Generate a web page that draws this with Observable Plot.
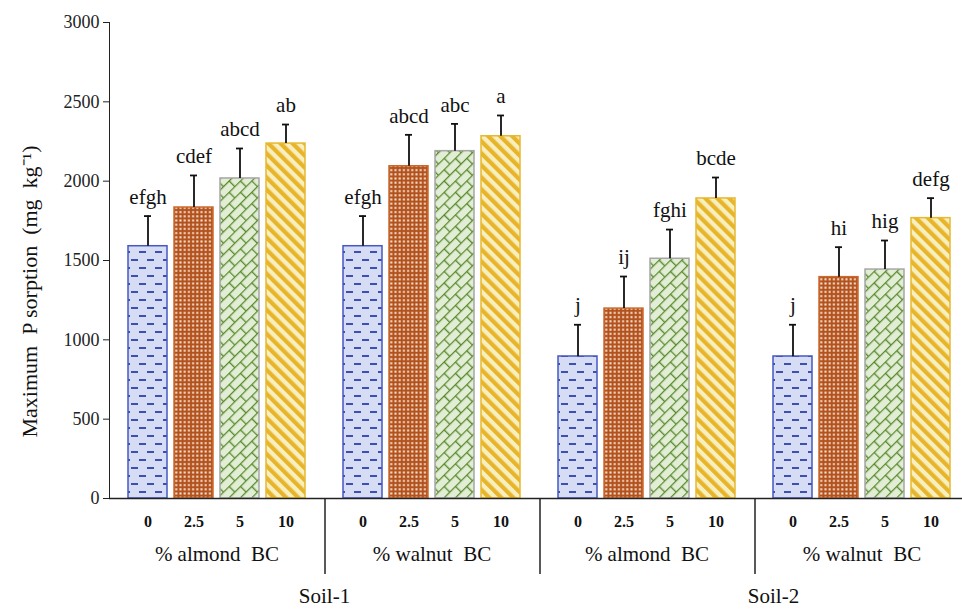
<!DOCTYPE html>
<html>
<head>
<meta charset="utf-8">
<script src="https://cdn.jsdelivr.net/npm/d3@7"></script>
<script src="https://cdn.jsdelivr.net/npm/@observablehq/plot@0.6"></script>
<style>
  html, body { margin: 0; padding: 0; background: #fff; }
  #chart svg { display: block; }
  #chart svg, #chart svg text { font-family: "Liberation Serif", "Times New Roman", serif !important; }
</style>
</head>
<body>
<div id="chart"></div>
<script>
// ---- data ----
const levels = ["0", "2.5", "5", "10"];
const groups = ["Soil-1 almond", "Soil-1 walnut", "Soil-2 almond", "Soil-2 walnut"];
const groupLabels = ["% almond  BC", "% walnut  BC", "% almond  BC", "% walnut  BC"];
const soils = ["Soil-1", "Soil-2"];
const yTicks = [0, 500, 1000, 1500, 2000, 2500, 3000];
const yLabel = "Maximum  P sorption  (mg  kg\u207B\u00B9)";

const s1AlmondMean = [1590, 1834, 2017, 2237];
const s1AlmondErr = [190, 202, 189, 120];
const s1AlmondLetters = ["efgh", "cdef", "abcd", "ab"];

const s1WalnutMean = [1590, 2094, 2189, 2283];
const s1WalnutErr = [190, 198, 172, 131];
const s1WalnutLetters = ["efgh", "abcd", "abc", "a"];

const s2AlmondMean = [895, 1197, 1511, 1891];
const s2AlmondErr = [200, 202, 184, 132];
const s2AlmondLetters = ["j", "ij", "fghi", "bcde"];

const s2WalnutMean = [895, 1395, 1443, 1767];
const s2WalnutErr = [200, 189, 183, 126];
const s2WalnutLetters = ["j", "hi", "hig", "defg"];

const fillPatterns = ["url(#p0)", "url(#p1)", "url(#p2)", "url(#p3)"];
const strokeColors = ["#4658c2", "#cc6a2c", "#a6a6a6", "#e8b830"];

// ---- table built from the arrays ----
const series = [
  [s1AlmondMean, s1AlmondErr, s1AlmondLetters],
  [s1WalnutMean, s1WalnutErr, s1WalnutLetters],
  [s2AlmondMean, s2AlmondErr, s2AlmondLetters],
  [s2WalnutMean, s2WalnutErr, s2WalnutLetters]
];
const rows = [];
series.forEach(([m, e, l], gi) => {
  levels.forEach((lev, li) => {
    rows.push({group: groups[gi], level: lev, value: m[li], err: e[li], letter: l[li]});
  });
});

const font = "Liberation Serif, Times New Roman, serif";

const chart = Plot.plot({
  width: 962,
  height: 610,
  marginLeft: 107,
  marginRight: -8,
  marginTop: 22,
  marginBottom: 112,
  style: {fontFamily: font, fontSize: "18px", color: "#222", background: "white"},
  fx: {domain: groups, padding: 0, axis: null},
  x: {domain: levels, paddingInner: 0.16, paddingOuter: 0.4, axis: null},
  y: {domain: [0, 3000], ticks: yTicks, tickFormat: d => `${d}`, tickSize: 6, tickPadding: 4, line: true, label: null},
  marks: [
    ...levels.map((lev, i) => Plot.barY(rows.filter(d => d.level === lev), {
      fx: "group", x: "level", y: "value",
      fill: fillPatterns[i], stroke: strokeColors[i], strokeWidth: 1.5
    })),
    Plot.ruleX(rows, {fx: "group", x: "level", y1: "value", y2: d => d.value + d.err, stroke: "#111", strokeWidth: 1.8}),
    Plot.tickY(rows, {fx: "group", x: "level", y: d => d.value + d.err, insetLeft: 16, insetRight: 16, stroke: "#111", strokeWidth: 1.8}),
    Plot.text(rows, {fx: "group", x: "level", y: d => d.value + d.err, text: "letter", dy: -19, fontSize: 21, fill: "#111"}),
    Plot.ruleY([0], {stroke: "#222", strokeWidth: 1.5}),
    // x tick labels
    Plot.text(rows, {fx: "group", x: "level", text: "level", frameAnchor: "bottom", dy: 28, fontSize: 16, fontWeight: "bold", fill: "#111"}),
    // group labels
    Plot.text(groups, {fx: d => d, text: (d, i) => groupLabels[i], frameAnchor: "bottom", dy: 62, fontSize: 21, fill: "#111"}),
    // group separators
    Plot.ruleX(groups.slice(1), {fx: d => d, x: () => levels[0], dx: -38, y1: () => 0, insetBottom: -76, stroke: "#222", strokeWidth: 1.5}),
    // soil labels
    Plot.text([soils[0]], {fx: () => groups[1], frameAnchor: "bottom-left", textAnchor: "middle", dy: 104, fontSize: 21, fill: "#111"}),
    Plot.text([soils[1]], {fx: () => groups[3], frameAnchor: "bottom-left", textAnchor: "middle", dx: 19, dy: 104, fontSize: 21, fill: "#111"}),
    // y axis title
    Plot.text([yLabel], {fx: () => groups[0], frameAnchor: "left", textAnchor: "middle", rotate: -90, dx: -80, dy: 31, fontSize: 22, fill: "#111"})
  ]
});

const defs = `
<pattern id="p0" width="16" height="16" patternUnits="userSpaceOnUse">
  <rect width="16" height="16" fill="#d6dcf4"/>
  <rect x="1" y="3" width="7" height="2" fill="#3d4fb0"/>
  <rect x="9" y="11" width="7" height="2" fill="#3d4fb0"/>
</pattern>
<pattern id="p1" width="4.2" height="4.2" patternUnits="userSpaceOnUse">
  <rect width="4.2" height="4.2" fill="#b4521d"/>
  <rect x="1.1" y="1.1" width="2" height="2" fill="#f5e2d2"/>
</pattern>
<pattern id="p2" width="16" height="16" patternUnits="userSpaceOnUse" patternTransform="rotate(-45)">
  <rect width="16" height="16" fill="#e1eed5"/>
  <path d="M0,0.6H16M0,8.6H16M0.6,0V8M8.6,8V16" stroke="#5b8a2e" stroke-width="1.4" fill="none"/>
</pattern>
<pattern id="p3" width="8.5" height="8.5" patternUnits="userSpaceOnUse" patternTransform="rotate(-45)">
  <rect width="8.5" height="8.5" fill="#f8efbf"/>
  <rect width="4.2" height="8.5" fill="#e8b42a"/>
</pattern>`;
d3.select(chart).insert("defs", ":first-child").html(defs);

document.getElementById("chart").appendChild(chart);
</script>
</body>
</html>
